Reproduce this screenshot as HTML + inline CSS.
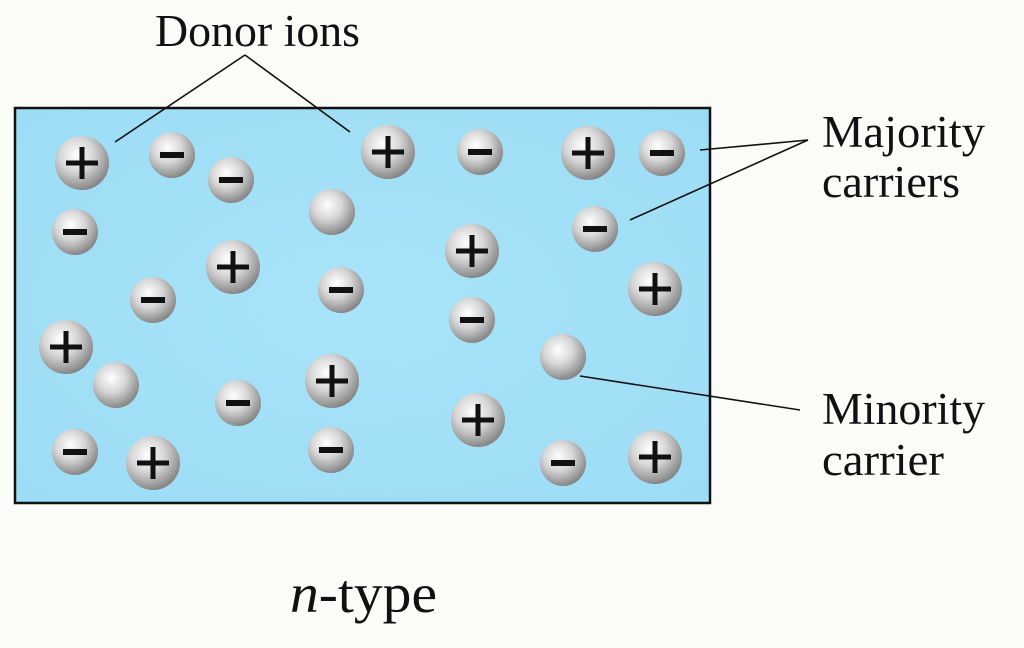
<!DOCTYPE html>
<html><head><style>
html,body{margin:0;padding:0;background:#fbfbf8;}
svg{display:block;}
text{font-family:"Liberation Serif",serif;fill:#111;}
</style></head><body>
<svg width="1024" height="648" viewBox="0 0 1024 648">
<defs>
<radialGradient id="g" cx="0.4" cy="0.35" r="0.7">
<stop offset="0" stop-color="#ffffff"/>
<stop offset="0.45" stop-color="#d6d6d6"/>
<stop offset="1" stop-color="#7c7c7c"/>
</radialGradient>
<radialGradient id="bg" cx="0.5" cy="0.5" r="0.7">
<stop offset="0" stop-color="#a8e4f9"/>
<stop offset="1" stop-color="#9cdcf5"/>
</radialGradient>
</defs>
<rect x="15" y="108" width="695" height="395" fill="url(#bg)" stroke="#111" stroke-width="2.5"/>
<g fill="url(#g)">
<circle cx="82" cy="163" r="27"/><circle cx="388" cy="152" r="27"/><circle cx="588" cy="153" r="27"/>
<circle cx="233" cy="267" r="27"/><circle cx="472" cy="251" r="27"/><circle cx="655" cy="289" r="27"/>
<circle cx="66" cy="347" r="27"/><circle cx="332" cy="381" r="27"/><circle cx="478" cy="420" r="27"/>
<circle cx="655" cy="457" r="27"/><circle cx="153" cy="463" r="27"/>
<circle cx="172" cy="155" r="23"/><circle cx="231" cy="180" r="23"/><circle cx="75" cy="232" r="23"/>
<circle cx="153" cy="300" r="23"/><circle cx="341" cy="290" r="23"/><circle cx="480" cy="152" r="23"/>
<circle cx="662" cy="153" r="23"/><circle cx="595" cy="229" r="23"/><circle cx="472" cy="320" r="23"/>
<circle cx="238" cy="403" r="23"/><circle cx="75" cy="452" r="23"/><circle cx="331" cy="450" r="23"/>
<circle cx="563" cy="463" r="23"/>
<circle cx="332" cy="212" r="23"/><circle cx="116" cy="385" r="23"/><circle cx="563" cy="357" r="23"/>
</g>
<g stroke="#111" stroke-width="5" fill="none">
<path d="M66 163h32M82 147v32M372 152h32M388 136v32M572 153h32M588 137v32M217 267h32M233 251v32M456 251h32M472 235v32M639 289h32M655 273v32M50 347h32M66 331v32M316 381h32M332 365v32M462 420h32M478 404v32M639 457h32M655 441v32M137 463h32M153 447v32"/>
</g>
<g stroke="#111" stroke-width="6" fill="none">
<path d="M160 155h24M219 180h24M63 232h24M141 300h24M329 290h24M468 152h24M650 153h24M583 229h24M460 320h24M226 403h24M63 452h24M319 450h24M551 463h24"/>
</g>
<g stroke="#111" stroke-width="1.6">
<line x1="245" y1="55" x2="115" y2="142"/><line x1="245" y1="55" x2="350" y2="132"/>
<line x1="808" y1="140" x2="700" y2="150"/><line x1="808" y1="140" x2="630" y2="220"/>
<line x1="580" y1="376" x2="800" y2="410"/>
</g>
<text x="155" y="46" font-size="45" textLength="205" lengthAdjust="spacingAndGlyphs">Donor ions</text>
<text x="822" y="147" font-size="45" textLength="163" lengthAdjust="spacingAndGlyphs">Majority</text>
<text x="822" y="197" font-size="45" textLength="138" lengthAdjust="spacingAndGlyphs">carriers</text>
<text x="822" y="424" font-size="45" textLength="163" lengthAdjust="spacingAndGlyphs">Minority</text>
<text x="822" y="475" font-size="45" textLength="122" lengthAdjust="spacingAndGlyphs">carrier</text>
<text x="290" y="612" font-size="55" textLength="147" lengthAdjust="spacingAndGlyphs"><tspan font-style="italic">n</tspan>-type</text>
</svg>
</body></html>
